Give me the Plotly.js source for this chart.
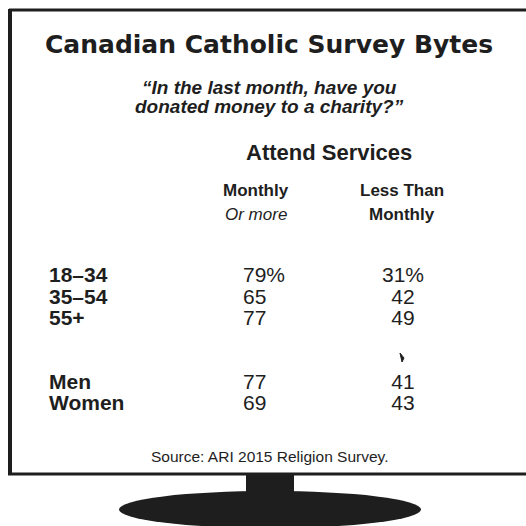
<!DOCTYPE html>
<html>
<head>
<meta charset="utf-8">
<script src="https://cdn.plot.ly/plotly-3.0.1.min.js"></script>
<style>
  html, body { margin: 0; padding: 0; background: #ffffff; }
  #chart { width: 526px; height: 526px; }
</style>
</head>
<body>
<div id="chart"></div>
<script>
// ---------------- Data ----------------
const chartTitle = "Canadian Catholic Survey Bytes";
const questionLines = ["\u201cIn the last month, have you", "donated money to a charity?\u201d"];
const groupHeader = "Attend Services";
const colMonthlyHeader = ["Monthly", "Or more"];
const colLessHeader = ["Less Than", "Monthly"];
const rowLabels = ["18\u201334", "35\u201354", "55+", "Men", "Women"];
const monthlyOrMore = [79, 65, 77, 77, 69];
const lessThanMonthly = [31, 42, 49, 41, 43];
const sourceNote = "Source: ARI 2015 Religion Survey.";
// spacer rows between the age block and the gender block
const rowOrder = ["18\u201334", "35\u201354", "55+", "\u00a0", "\u00a0\u00a0", "Men", "Women"];

// ---------------- Layout constants (pixels) ----------------
const W = 526, H = 526;
const INK = "#1e1e1e";
const LABEL_X = 49, COL1_X = 243, COL2_X = 403;
const ROW0_PX = 277, ROW_STEP = 21.3;
const py = p => 1 - p / H;           // pixel-from-top -> paper y
const fmt = (v, i) => v + (i === 0 ? "%" : "");

const sans = "Liberation Sans, Arial, sans-serif";

const traces = [
  {
    type: "scatter", mode: "text", x: rowLabels.map(() => LABEL_X), y: rowLabels,
    text: rowLabels.map(s => "<b>" + s + "</b>"), textposition: "middle right",
    textfont: { family: sans, size: 21, color: INK }, hoverinfo: "skip", showlegend: false
  },
  {
    type: "scatter", mode: "text", x: rowLabels.map(() => COL1_X), y: rowLabels,
    text: monthlyOrMore.map(fmt), textposition: "middle right",
    textfont: { family: sans, size: 21, color: INK }, hoverinfo: "skip", showlegend: false
  },
  {
    type: "scatter", mode: "text", x: rowLabels.map(() => COL2_X), y: rowLabels,
    text: lessThanMonthly.map(fmt), textposition: "middle center",
    textfont: { family: sans, size: 21, color: INK }, hoverinfo: "skip", showlegend: false
  }
];

const ann = (text, x, yPx, font, xanchor) => ({
  text, x, y: py(yPx), xref: "x", yref: "paper", showarrow: false,
  xanchor: xanchor || "center", yanchor: "middle", font
});

const annotations = [
  ann(chartTitle, 269, 44, { family: "DejaVu Sans, sans-serif", size: 25, color: INK, weight: 600 }),
  ann("<b><i>" + questionLines[0] + "</i></b>", 269, 87, { family: sans, size: 19, color: INK }),
  ann("<b><i>" + questionLines[1] + "</i></b>", 269, 106, { family: sans, size: 19, color: INK }),
  ann("<b>" + groupHeader + "</b>", 329, 152, { family: sans, size: 22, color: INK }),
  ann("<b>" + colMonthlyHeader[0] + "</b>", 256, 190, { family: sans, size: 17, color: INK }),
  ann("<i>" + colMonthlyHeader[1] + "</i>", 256, 214, { family: sans, size: 17, color: INK }),
  ann("<b>" + colLessHeader[0] + "</b>", 402, 190, { family: sans, size: 17, color: INK }),
  ann("<b>" + colLessHeader[1] + "</b>", 402, 214, { family: sans, size: 17, color: INK }),
  ann(sourceNote, 270, 456, { family: sans, size: 15.5, color: INK })
];

const shapes = [
  // monitor frame
  { type: "line", xref: "x", yref: "paper", x0: 9, x1: 526, y0: py(10), y1: py(10), line: { color: INK, width: 3 } },
  { type: "line", xref: "x", yref: "paper", x0: 10, x1: 10, y0: py(9), y1: py(475), line: { color: INK, width: 4 } },
  { type: "line", xref: "x", yref: "paper", x0: 8, x1: 526, y0: py(474), y1: py(474), line: { color: INK, width: 3 } },
  // stand neck
  { type: "rect", xref: "x", yref: "paper", x0: 246, x1: 294, y0: py(475), y1: py(496), fillcolor: INK, line: { width: 0 } },
  // base
  { type: "circle", xref: "x", yref: "paper", x0: 119, x1: 421, y0: py(491), y1: py(528), fillcolor: INK, line: { width: 0 } },
  // small scanner mark
  { type: "path", xref: "x", yref: "paper",
    path: `M 400 ${py(353)} L 404 ${py(358)} L 402 ${py(362)} Z`, fillcolor: INK, line: { color: INK, width: 1 } }
];

const layout = {
  width: W, height: H,
  margin: { l: 0, r: 0, t: 0, b: 0 },
  paper_bgcolor: "#ffffff", plot_bgcolor: "#ffffff",
  xaxis: { range: [0, W], visible: false, fixedrange: true },
  yaxis: {
    type: "category", categoryorder: "array", categoryarray: rowOrder,
    range: [(H - ROW0_PX) / ROW_STEP, -ROW0_PX / ROW_STEP],
    visible: false, fixedrange: true
  },
  showlegend: false,
  annotations, shapes
};

Plotly.newPlot("chart", traces, layout, { displayModeBar: false, staticPlot: true });
</script>
</body>
</html>
